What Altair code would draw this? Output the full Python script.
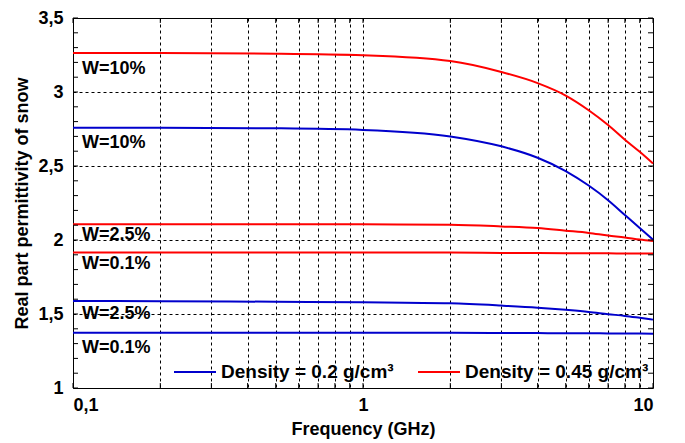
import altair as alt
import pandas as pd

# ---- data ----
freqs = [0.1, 0.2, 0.5, 1, 2, 3, 4, 5, 6, 7, 8, 9, 10]

d045_w10 = [3.263, 3.263, 3.259, 3.248, 3.209, 3.135, 3.060, 2.976, 2.877, 2.777, 2.678, 2.596, 2.517]
d02_w10 = [2.759, 2.759, 2.755, 2.744, 2.700, 2.633, 2.556, 2.466, 2.368, 2.269, 2.169, 2.081, 2.003]
d045_w25 = [2.107, 2.107, 2.107, 2.106, 2.103, 2.092, 2.081, 2.063, 2.048, 2.030, 2.017, 2.003, 1.993]
d045_w01 = [1.915, 1.915, 1.915, 1.915, 1.915, 1.913, 1.912, 1.911, 1.910, 1.910, 1.909, 1.909, 1.908]
d02_w25 = [1.588, 1.586, 1.583, 1.579, 1.572, 1.557, 1.543, 1.528, 1.514, 1.499, 1.487, 1.474, 1.462]
d02_w01 = [1.373, 1.373, 1.373, 1.373, 1.373, 1.372, 1.371, 1.370, 1.370, 1.369, 1.368, 1.368, 1.367]

density_labels = ["Density = 0.2 g/cm³", "Density = 0.45 g/cm³"]
density_colors = ["#0000CC", "#FF0000"]

series_names = ["d045_w10", "d02_w10", "d045_w25", "d045_w01", "d02_w25", "d02_w01"]
series_density = [density_labels[1], density_labels[0], density_labels[1],
                  density_labels[1], density_labels[0], density_labels[0]]
series_values = [d045_w10, d02_w10, d045_w25, d045_w01, d02_w25, d02_w01]

label_texts = ["W=10%", "W=10%", "W=2.5%", "W=0.1%", "W=2.5%", "W=0.1%"]
label_eps = [3.124, 2.622, 2.001, 1.802, 1.464, 1.239]
label_freq = [0.1, 0.1, 0.1, 0.1, 0.1, 0.1]

x_grid_values = [0.1, 0.2, 0.3, 0.4, 0.5, 0.6, 0.7, 0.8, 0.9,
                 1, 2, 3, 4, 5, 6, 7, 8, 9, 10]
x_label_values = [0.1, 1, 10]
y_values = [1, 1.5, 2, 2.5, 3, 3.5]
y_minor = [1.0, 1.1, 1.2, 1.3, 1.4, 1.5, 1.6, 1.7, 1.8, 1.9, 2.0, 2.1, 2.2,
           2.3, 2.4, 2.5, 2.6, 2.7, 2.8, 2.9, 3.0, 3.1, 3.2, 3.3, 3.4, 3.5]

# ---- tables ----
rows = []
for name, dens, vals in zip(series_names, series_density, series_values):
    for f, v in zip(freqs, vals):
        rows.append({"series": name, "density": dens, "freq": f, "eps": v})
df = pd.DataFrame(rows)
df_labels = pd.DataFrame({"freq": label_freq, "eps": label_eps, "text": label_texts})
df_xt = pd.DataFrame({"freq": x_grid_values})
df_yt = pd.DataFrame({"eps": y_minor})

FONT = "Liberation Sans"
W, H = 580, 370

xscale = alt.Scale(type="log", domain=[0.1, 10], nice=False)
yscale = alt.Scale(domain=[1, 3.5], nice=False)

x_label_list = "[" + ", ".join(str(v) for v in x_label_values) + "]"

x_axis = alt.Axis(values=x_grid_values, title="Frequency (GHz)", format="~g",
                  labelExpr=f"indexof({x_label_list}, datum.value) >= 0 ? replace(datum.label, '.', ',') : ''",
                  labelOverlap=False, labelPadding=8, titlePadding=6)
y_axis = alt.Axis(values=y_values, title="Real part permittivity of snow", format="~g",
                  labelExpr="replace(datum.label, '.', ',')",
                  labelOverlap=False, labelPadding=10, titlePadding=6)

X = alt.X("freq:Q", scale=xscale, axis=x_axis)
Y = alt.Y("eps:Q", scale=yscale, axis=y_axis)

lines = alt.Chart(df).mark_line(strokeWidth=2, interpolate="monotone").encode(
    x=X, y=Y,
    color=alt.Color("density:N",
                    scale=alt.Scale(domain=density_labels, range=density_colors),
                    legend=alt.Legend(title=None, orient="none", legendX=100, legendY=332,
                                      direction="horizontal", symbolType="stroke",
                                      symbolSize=1764, symbolStrokeWidth=2,
                                      labelFont=FONT, labelFontWeight="bold",
                                      labelFontSize=19, labelColor="black",
                                      labelLimit=400, columnPadding=20, labelOffset=4,
                                      padding=0)),
    detail="series:N",
)

texts = alt.Chart(df_labels).mark_text(
    align="left", baseline="alphabetic", dx=9, font=FONT, fontWeight="bold",
    fontSize=18, color="black"
).encode(x=X, y=Y, text="text:N")

tick_style = dict(thickness=1, size=5, color="black", opacity=1)
left_ticks = alt.Chart(df_yt).mark_tick(orient="horizontal", **tick_style).encode(
    y=Y, x=alt.value(2.5))
right_ticks = alt.Chart(df_yt).mark_tick(orient="horizontal", **tick_style).encode(
    y=Y, x=alt.value(W - 2.5))
bottom_ticks = alt.Chart(df_xt).mark_tick(orient="vertical", **tick_style).encode(
    x=X, y=alt.value(H - 2.5))
top_ticks = alt.Chart(df_xt).mark_tick(orient="vertical", **tick_style).encode(
    x=X, y=alt.value(2.5))

chart = alt.layer(lines, texts, left_ticks, right_ticks, bottom_ticks, top_ticks).properties(
    width=W, height=H,
    autosize=alt.AutoSizeParams(type="none"),
    padding={"left": 65, "top": 10, "right": 20, "bottom": 52},
    background="white",
).configure_view(
    stroke="black", strokeWidth=1
).configure_axis(
    labelFont=FONT, labelFontWeight="bold", labelFontSize=18, labelColor="black",
    titleFont=FONT, titleFontWeight="bold", titleFontSize=18, titleColor="black",
    domain=False, ticks=False, grid=True, gridColor="black", gridDash=[3, 3],
    gridOpacity=1, gridWidth=1,
)

chart.save("out.html", embed_options={"renderer": "svg", "actions": False})
